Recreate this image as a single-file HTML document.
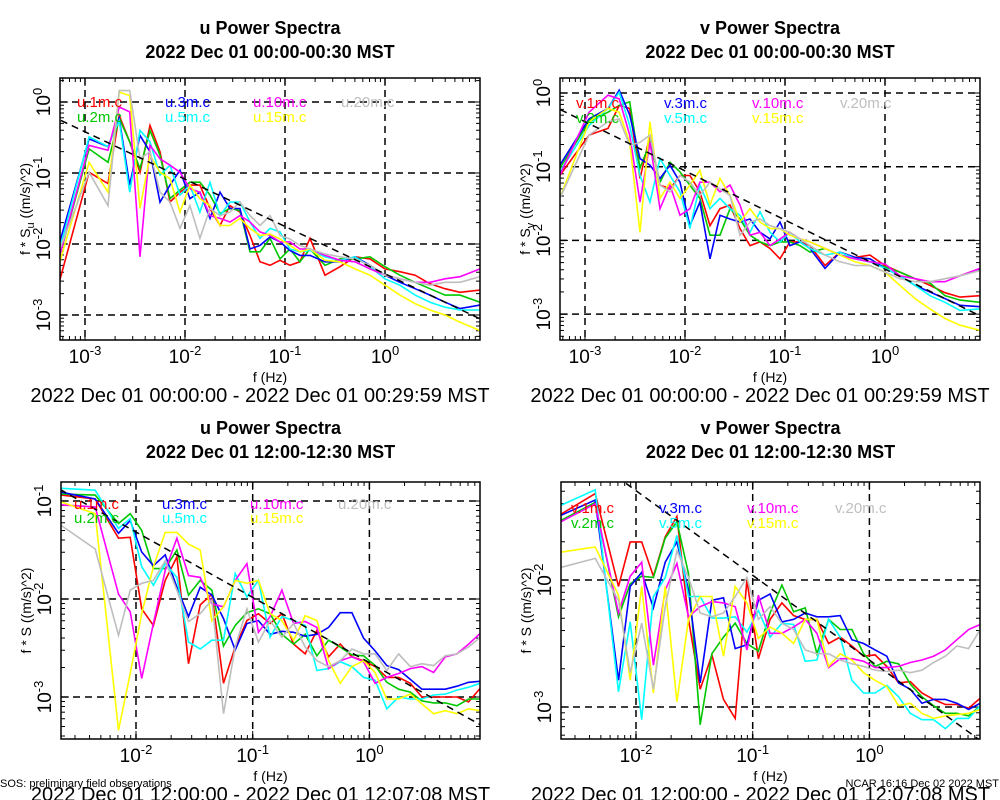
<!DOCTYPE html>
<html><head><meta charset="utf-8"><style>
html,body{margin:0;padding:0;background:#fff;}
svg{display:block;font-family:"Liberation Sans",sans-serif;}
</style></head><body>
<svg id="chart" width="1000" height="800" viewBox="0 0 1000 800" xmlns="http://www.w3.org/2000/svg"></svg>
<script>
// ---- data (series values are log10 of f*S) ----
const seriesNames = ["1m","2m","3m","5m","10m","15m","20m"];
const seriesColors = ["#ff0000","#00c800","#0000ff","#00ffff","#ff00ff","#ffff00","#bebebe"];
const freqTop = [5.6e-4,1.1e-3,1.7e-3,2.2e-3,2.8e-3,3.55e-3,4.47e-3,5.62e-3,7.08e-3,8.91e-3,0.0112,0.0141,0.0178,0.0224,0.0282,0.0355,0.0447,0.0562,0.0708,0.0891,0.112,0.141,0.178,0.251,0.355,0.501,0.708,1.0,1.41,2.0,2.82,3.98,5.62,8.91];
const freqBot = [2.29e-3,4.47e-3,7.08e-3,8.91e-3,0.0112,0.0141,0.0178,0.0224,0.0282,0.0355,0.0447,0.0562,0.0708,0.0891,0.112,0.141,0.178,0.224,0.282,0.355,0.447,0.562,0.708,0.891,1.12,1.41,1.78,2.24,2.82,3.55,4.47,5.62,7.08,8.91];

const uAm_1m=[-2.51,-0.99,-1.15,-0.19,-0.56,-0.99,-0.33,-0.70,-1.41,-1.27,-1.17,-1.17,-1.50,-1.74,-1.46,-1.55,-1.88,-2.25,-2.30,-2.23,-2.30,-2.25,-1.92,-2.44,-2.32,-2.18,-2.21,-2.35,-2.39,-2.44,-2.56,-2.63,-2.68,-2.65];
const uAm_2m=[-2.16,-0.66,-0.85,-0.23,-0.56,-0.94,-0.40,-0.75,-1.36,-1.24,-1.13,-1.13,-1.31,-1.57,-1.50,-1.53,-2.11,-2.11,-1.92,-2.21,-2.07,-2.25,-2.07,-2.30,-2.21,-2.21,-2.18,-2.32,-2.44,-2.54,-2.63,-2.72,-2.72,-2.82];
const uAm_3m=[-1.97,-0.52,-0.63,-0.23,-1.17,-0.47,-0.70,-1.41,-1.17,-0.96,-1.36,-1.27,-1.64,-1.27,-1.50,-1.50,-2.07,-2.02,-1.90,-1.97,-2.09,-2.16,-2.16,-2.25,-2.25,-2.18,-2.30,-2.44,-2.54,-2.63,-2.72,-2.82,-2.91,-2.86];
const uAm_5m=[-2.07,-0.49,-0.63,-0.26,-1.27,-0.40,-0.56,-1.03,-0.89,-1.31,-1.17,-1.55,-1.13,-1.60,-1.41,-1.41,-1.69,-1.92,-1.78,-1.83,-2.07,-2.11,-2.09,-2.18,-2.23,-2.18,-2.32,-2.49,-2.58,-2.72,-2.82,-2.89,-2.93,-2.93];
const uAm_10m=[-2.16,-0.61,-0.68,-0.07,-0.14,-2.18,-0.61,-0.80,-0.89,-0.99,-1.22,-1.27,-1.60,-1.64,-1.69,-1.60,-1.69,-1.83,-1.88,-1.97,-1.97,-2.07,-2.07,-2.16,-2.23,-2.25,-2.35,-2.44,-2.49,-2.54,-2.54,-2.49,-2.46,-2.35];
const uAm_15m=[-2.25,-0.85,-1.27,0.14,0.09,-1.50,-0.75,-0.99,-1.08,-1.55,-1.17,-1.36,-1.46,-1.74,-1.74,-1.64,-1.78,-1.88,-1.86,-1.93,-2.02,-2.11,-2.07,-2.23,-2.25,-2.35,-2.44,-2.58,-2.72,-2.84,-2.93,-3.00,-3.10,-3.22];
const uAm_20m=[-2.07,-0.99,-1.46,0.16,0.16,-0.80,-0.70,-1.27,-1.41,-1.78,-1.46,-1.92,-1.50,-1.60,-1.55,-1.41,-1.60,-1.74,-1.60,-1.88,-1.93,-2.02,-2.07,-2.14,-2.18,-2.21,-2.30,-2.44,-2.49,-2.54,-2.58,-2.54,-2.54,-2.46];

const vAm_1m=[-1.12,-0.57,-0.48,-0.17,-0.21,-1.16,-0.57,-1.25,-1.30,-1.12,-1.12,-1.34,-1.80,-1.57,-1.52,-1.84,-2.07,-2.02,-2.11,-2.25,-2.02,-2.02,-2.07,-2.34,-2.16,-2.23,-2.20,-2.34,-2.43,-2.52,-2.61,-2.71,-2.77,-2.75];
const vAm_2m=[-1.02,-0.39,-0.26,-0.17,-0.12,-1.02,-0.67,-1.21,-0.94,-1.07,-1.25,-1.43,-1.93,-1.93,-1.57,-1.71,-1.93,-2.02,-2.07,-2.02,-2.02,-2.07,-2.16,-2.11,-2.20,-2.25,-2.29,-2.36,-2.43,-2.52,-2.58,-2.75,-2.81,-2.84];
const vAm_3m=[-0.98,-0.35,-0.21,0.04,-0.30,-0.89,-0.98,-1.16,-0.98,-1.21,-1.80,-1.48,-2.25,-1.66,-1.71,-1.75,-1.71,-1.89,-1.98,-1.75,-2.07,-2.02,-2.11,-2.38,-2.16,-2.23,-2.25,-2.38,-2.48,-2.61,-2.70,-2.79,-2.88,-2.90];
const vAm_5m=[-1.07,-0.44,-0.21,0.01,-0.44,-1.12,-1.48,-0.89,-1.12,-1.34,-1.84,-1.25,-1.57,-1.43,-1.57,-1.66,-1.89,-1.61,-1.89,-2.02,-1.89,-2.02,-2.11,-2.20,-2.16,-2.25,-2.29,-2.38,-2.48,-2.61,-2.75,-2.84,-2.95,-2.93];
const vAm_10m=[-1.12,-0.26,-0.03,-0.08,-0.57,-1.48,-0.67,-1.57,-1.25,-1.66,-1.57,-1.21,-1.21,-1.34,-1.25,-1.52,-1.93,-1.89,-2.07,-1.98,-1.89,-1.98,-2.02,-2.11,-2.20,-2.25,-2.29,-2.32,-2.48,-2.52,-2.56,-2.56,-2.48,-2.38];
const vAm_15m=[-1.43,-0.39,-0.21,-0.26,-0.67,-1.89,-0.39,-1.43,-1.21,-1.43,-1.25,-1.05,-1.52,-1.16,-1.39,-1.75,-1.57,-1.75,-1.84,-1.84,-1.93,-1.98,-2.02,-2.11,-2.20,-2.29,-2.34,-2.43,-2.61,-2.79,-2.93,-3.06,-3.15,-3.22];
const vAm_20m=[-1.43,-0.57,-0.39,-0.35,-0.71,-0.67,-0.57,-1.25,-1.34,-1.12,-1.21,-1.39,-1.21,-1.30,-1.39,-1.93,-1.75,-1.71,-1.80,-1.84,-1.89,-1.98,-2.07,-2.20,-2.29,-2.34,-2.34,-2.43,-2.52,-2.56,-2.56,-2.52,-2.48,-2.41];

const uPm_1m=[-0.94,-0.98,-1.38,-1.37,-2.10,-2.27,-1.81,-1.57,-2.66,-2.06,-1.95,-2.86,-2.49,-2.22,-2.15,-2.25,-2.15,-2.46,-2.56,-2.32,-2.59,-2.46,-2.59,-2.63,-2.69,-2.80,-2.80,-2.86,-3.00,-3.00,-3.00,-3.00,-3.05,-2.91];
const uPm_2m=[-0.93,-0.94,-1.23,-1.13,-1.30,-1.69,-1.69,-1.50,-1.96,-1.81,-1.91,-2.48,-2.27,-2.14,-2.10,-2.15,-2.36,-2.46,-2.36,-2.58,-2.42,-2.49,-2.57,-2.58,-2.68,-2.85,-2.92,-2.95,-3.04,-3.06,-3.06,-3.09,-3.02,-3.02];
const uPm_3m=[-0.91,-0.98,-1.33,-1.20,-1.52,-1.66,-1.55,-1.88,-2.18,-1.88,-1.96,-2.20,-2.52,-2.25,-2.22,-2.36,-2.33,-2.34,-2.38,-2.36,-2.29,-2.14,-2.14,-2.40,-2.53,-2.68,-2.72,-2.82,-2.92,-2.92,-2.92,-2.89,-2.85,-2.84];
const uPm_5m=[-0.87,-0.89,-1.28,-1.18,-1.67,-1.86,-1.64,-1.78,-2.44,-2.51,-2.42,-2.42,-1.74,-1.98,-1.81,-2.39,-2.18,-2.22,-2.27,-2.73,-2.71,-2.64,-2.69,-2.80,-2.83,-3.12,-3.00,-3.02,-3.02,-2.98,-2.97,-2.93,-2.90,-2.86];
const uPm_10m=[-1.04,-1.06,-1.95,-2.13,-2.81,-2.25,-1.71,-1.38,-1.76,-1.78,-2.05,-2.08,-1.81,-1.64,-2.34,-2.18,-1.91,-2.25,-2.23,-2.29,-2.71,-2.63,-2.59,-2.64,-2.86,-2.80,-2.76,-2.71,-2.69,-2.75,-2.59,-2.56,-2.46,-2.35];
const uPm_15m=[-1.01,-1.13,-3.34,-2.76,-2.15,-1.67,-1.32,-1.32,-1.44,-1.50,-2.22,-2.08,-1.81,-1.84,-1.81,-2.15,-2.22,-2.42,-2.17,-2.22,-2.63,-2.86,-2.69,-2.63,-2.75,-3.02,-3.02,-2.97,-3.07,-3.17,-3.14,-3.17,-3.12,-3.14];
const uPm_20m=[-1.25,-1.49,-2.37,-1.91,-1.84,-1.81,-1.61,-1.91,-2.23,-2.15,-2.01,-3.17,-2.49,-2.10,-2.44,-2.22,-2.39,-2.25,-2.49,-2.63,-2.69,-2.63,-2.51,-2.56,-2.56,-2.73,-2.56,-2.69,-2.66,-2.68,-2.58,-2.56,-2.49,-2.39];

const vPm_1m=[-1.48,-1.32,-2.05,-1.70,-1.70,-1.97,-1.66,-1.50,-2.31,-2.86,-2.59,-2.94,-3.09,-2.00,-2.62,-2.31,-2.18,-2.28,-2.31,-2.31,-2.50,-2.45,-2.52,-2.60,-2.59,-2.68,-2.81,-2.80,-2.89,-2.94,-2.98,-2.98,-3.01,-2.93];
const vPm_2m=[-1.53,-1.39,-2.29,-2.03,-1.97,-1.98,-1.67,-1.54,-1.95,-3.14,-2.58,-2.45,-2.34,-2.50,-2.56,-2.26,-2.04,-2.25,-2.22,-2.58,-2.31,-2.39,-2.39,-2.58,-2.68,-2.64,-2.66,-2.82,-2.92,-2.99,-3.05,-3.05,-3.07,-2.99];
const vPm_3m=[-1.49,-1.37,-2.79,-2.05,-1.94,-2.22,-1.86,-1.70,-2.08,-2.81,-2.16,-2.14,-2.54,-2.51,-2.16,-2.11,-2.33,-2.31,-2.26,-2.29,-2.29,-2.28,-2.47,-2.50,-2.55,-2.60,-2.81,-2.86,-2.97,-2.94,-2.94,-2.97,-3.02,-2.97];
const vPm_5m=[-1.41,-1.29,-2.88,-2.33,-3.10,-2.13,-1.98,-1.65,-2.13,-2.13,-2.30,-2.30,-2.29,-2.41,-2.24,-2.45,-2.34,-2.35,-2.64,-2.63,-2.31,-2.45,-2.79,-2.89,-2.89,-2.83,-2.92,-3.05,-3.10,-3.10,-3.17,-3.09,-3.09,-2.99];
const vPm_10m=[-1.54,-1.40,-2.26,-1.97,-1.86,-2.67,-2.08,-1.87,-2.29,-2.21,-2.17,-2.18,-2.21,-2.55,-2.12,-2.42,-2.42,-2.37,-2.31,-2.42,-2.69,-2.62,-2.62,-2.64,-2.69,-2.69,-2.68,-2.65,-2.63,-2.60,-2.55,-2.47,-2.39,-2.35];
const vPm_15m=[-1.78,-1.74,-2.12,-2.79,-2.05,-2.89,-2.05,-2.96,-2.31,-2.13,-2.13,-2.60,-2.05,-2.18,-2.46,-2.37,-2.42,-2.50,-2.31,-2.31,-2.68,-2.58,-2.63,-2.73,-2.79,-2.84,-2.99,-2.97,-3.05,-3.09,-3.07,-3.06,-3.05,-3.02];
const vPm_20m=[-1.90,-1.83,-2.16,-2.73,-2.34,-2.86,-2.21,-1.77,-1.98,-2.26,-2.29,-2.26,-2.13,-1.98,-2.31,-2.21,-2.34,-2.39,-2.55,-2.58,-2.58,-2.63,-2.66,-2.68,-2.71,-2.72,-2.71,-2.73,-2.71,-2.65,-2.60,-2.52,-2.54,-2.39];

// reference -2/3 power-law line: log10(f*S) at f = 1 Hz
const refIntercepts = [-2.42,-2.39,-2.65,-2.63];
const refSlope = -0.6667;

const panelTitles = ["u Power Spectra","v Power Spectra","u Power Spectra","v Power Spectra"];
const panelTimes = ["2022 Dec 01 00:00-00:30 MST","2022 Dec 01 00:00-00:30 MST","2022 Dec 01 12:00-12:30 MST","2022 Dec 01 12:00-12:30 MST"];
const panelRanges = ["2022 Dec 01 00:00:00 - 2022 Dec 01 00:29:59 MST","2022 Dec 01 00:00:00 - 2022 Dec 01 00:29:59 MST","2022 Dec 01 12:00:00 - 2022 Dec 01 12:07:08 MST","2022 Dec 01 12:00:00 - 2022 Dec 01 12:07:08 MST"];
const xTickExps = [[-3,-2,-1,0],[-3,-2,-1,0],[-2,-1,0],[-2,-1,0]];
const yTickExps = [[0,-1,-2,-3],[0,-1,-2,-3],[-1,-2,-3],[-2,-3]];

// ---- layout ----
const panels = [
 {var:"u",freq:freqTop,data:[uAm_1m,uAm_2m,uAm_3m,uAm_5m,uAm_10m,uAm_15m,uAm_20m],x0:60,x1:480,y0:78,y1:340,gx:85,gxl:-3,dx:100,gy:102,gyl:0,dy:71,sub:true,leg:[77,107,88,15],tY:34},
 {var:"v",freq:freqTop,data:[vAm_1m,vAm_2m,vAm_3m,vAm_5m,vAm_10m,vAm_15m,vAm_20m],x0:560,x1:980,y0:78,y1:340,gx:585,gxl:-3,dx:100,gy:93,gyl:0,dy:73.7,sub:true,leg:[576,108,88,15],tY:34},
 {var:"u",freq:freqBot,data:[uPm_1m,uPm_2m,uPm_3m,uPm_5m,uPm_10m,uPm_15m,uPm_20m],x0:61,x1:480,y0:482,y1:739,gx:136,gxl:-2,dx:116.7,gy:501,gyl:-1,dy:98,sub:false,leg:[74,509,88,14],tY:434},
 {var:"v",freq:freqBot,data:[vPm_1m,vPm_2m,vPm_3m,vPm_5m,vPm_10m,vPm_15m,vPm_20m],x0:561,x1:980,y0:482,y1:739,gx:636,gxl:-2,dx:116.7,gy:580,gyl:-2,dy:127,sub:false,leg:[571,513,88,15],tY:434}
];
const NS="http://www.w3.org/2000/svg";
const svg=document.getElementById('chart');
function mk(tag,attrs,parent,text){const e=document.createElementNS(NS,tag);for(const k in attrs)e.setAttribute(k,attrs[k]);if(text!==undefined)e.textContent=text;(parent||svg).appendChild(e);return e;}
const legendSlots=[[0,0],[0,1],[1,0],[1,1],[2,0],[2,1],[3,0]];

panels.forEach((p,pi)=>{
  const g=mk('g',{});
  
  
  const X=f=>p.gx+(Math.log10(f)-p.gxl)*p.dx;
  const Y=v=>p.gy-(Math.log10(v)-p.gyl)*p.dy;
  const cx=(p.x0+p.x1)/2;
  const t1=mk('text',{x:cx,y:p.tY,'text-anchor':'middle','font-size':18,'font-weight':'bold'},g,panelTitles[pi]);
  
  const t2=mk('text',{x:cx,y:p.tY+24,'text-anchor':'middle','font-size':18,'font-weight':'bold'},g,panelTimes[pi]);
  
  const cid='clip'+pi;
  const cp=mk('clipPath',{id:cid},g);mk('rect',{x:p.x0,y:p.y0,width:p.x1-p.x0,height:p.y1-p.y0},cp);
  const grid=mk('g',{stroke:'#000','stroke-width':1.5,'stroke-dasharray':'7,5','clip-path':'url(#'+cid+')'},g);
  
  xTickExps[pi].forEach(e=>{const x=X(Math.pow(10,e));mk('line',{x1:x,x2:x,y1:p.y0,y2:p.y1},grid);});
  yTickExps[pi].forEach(e=>{const y=Y(Math.pow(10,e));mk('line',{x1:p.x0,x2:p.x1,y1:y,y2:y},grid);});
  const tk=mk('g',{stroke:'#000','stroke-width':1},g);
  
  for(let d=-5;d<=2;d++)for(let m=1;m<10;m++){const f=m*Math.pow(10,d);const x=X(f);if(x<p.x0||x>p.x1)continue;const L=m===1?8:4;
    mk('line',{x1:x,x2:x,y1:p.y1,y2:p.y1-L},tk);mk('line',{x1:x,x2:x,y1:p.y0,y2:p.y0+L},tk);}
  for(let d=-5;d<=2;d++)for(let m=1;m<10;m++){const v=m*Math.pow(10,d);const y=Y(v);if(y<p.y0||y>p.y1)continue;const L=m===1?8:4;
    mk('line',{x1:p.x0,x2:p.x0+L,y1:y,y2:y},tk);mk('line',{x1:p.x1,x2:p.x1-L,y1:y,y2:y},tk);}
  const sg=mk('g',{'clip-path':'url(#'+cid+')',fill:'none','stroke-width':1.6,'stroke-linejoin':'miter'},g);
  p.data.forEach((arr,si)=>{
    const d=arr.map((e,i)=>(i?'L':'M')+X(p.freq[i]).toFixed(1)+','+Y(Math.pow(10,e)).toFixed(1)).join('');
    const pl=mk('path',{d:d,stroke:seriesColors[si]},sg);
    
    
  });
  const fa=Math.pow(10,-4),fb=Math.pow(10,1.5);
  const ra=Math.pow(10,refIntercepts[pi]+refSlope*Math.log10(fa)),rb=Math.pow(10,refIntercepts[pi]+refSlope*Math.log10(fb));
  const rl=mk('line',{x1:X(fa),y1:Y(ra),x2:X(fb),y2:Y(rb),stroke:'#000','stroke-width':1.5,'stroke-dasharray':'7,5','clip-path':'url(#'+cid+')'},g);
  
  const fr=mk('rect',{x:p.x0,y:p.y0,width:p.x1-p.x0,height:p.y1-p.y0,fill:'none',stroke:'#000','stroke-width':1.5},g);
  
  p.data.forEach((arr,si)=>{
    const [c,r]=legendSlots[si];
    const lt=mk('text',{x:p.leg[0]+c*p.leg[2],y:p.leg[1]+r*p.leg[3],'font-size':15,fill:seriesColors[si]},g,p.var+'.'+seriesNames[si]+'.c');
    
  });
  xTickExps[pi].forEach(e=>{const x=X(Math.pow(10,e));
    const tl=mk('text',{x:x,y:p.y1+23,'text-anchor':'middle','font-size':19},g);
    
    mk('tspan',{},tl,'10');mk('tspan',{dy:-8,'font-size':13},tl,String(e));});
  yTickExps[pi].forEach(e=>{const y=Y(Math.pow(10,e));const xl=p.x0-10;
    const tl=mk('text',{x:0,y:0,'text-anchor':'middle','font-size':19,transform:'translate('+xl+','+y+') rotate(-90)'},g);
    
    mk('tspan',{},tl,'10');mk('tspan',{dy:-8,'font-size':13},tl,String(e));});
  const yc=(p.y0+p.y1)/2;
  const yt=mk('text',{x:0,y:0,'text-anchor':'middle','font-size':14,transform:'translate('+(p.x0-30)+','+yc+') rotate(-90)'},g);
  
  if(p.sub){mk('tspan',{},yt,'f * S');mk('tspan',{dy:4,'font-size':11},yt,p.var);mk('tspan',{dy:-4},yt,' ((m/s)^2)');}
  else mk('tspan',{},yt,'f * S ((m/s)^2)');
  const xt=mk('text',{x:cx,y:p.y1+42,'text-anchor':'middle','font-size':14},g,'f (Hz)');
  
  const rt=mk('text',{x:cx-10,y:p.y1+62,'text-anchor':'middle','font-size':20},g,panelRanges[pi]);
  
});
const f1=mk('text',{x:0,y:787,'font-size':11},svg,'SOS: preliminary field observations');

const f2=mk('text',{x:999,y:787,'font-size':11,'text-anchor':'end'},svg,'NCAR 16:16 Dec 02 2022 MST');

</script>
</body></html>
